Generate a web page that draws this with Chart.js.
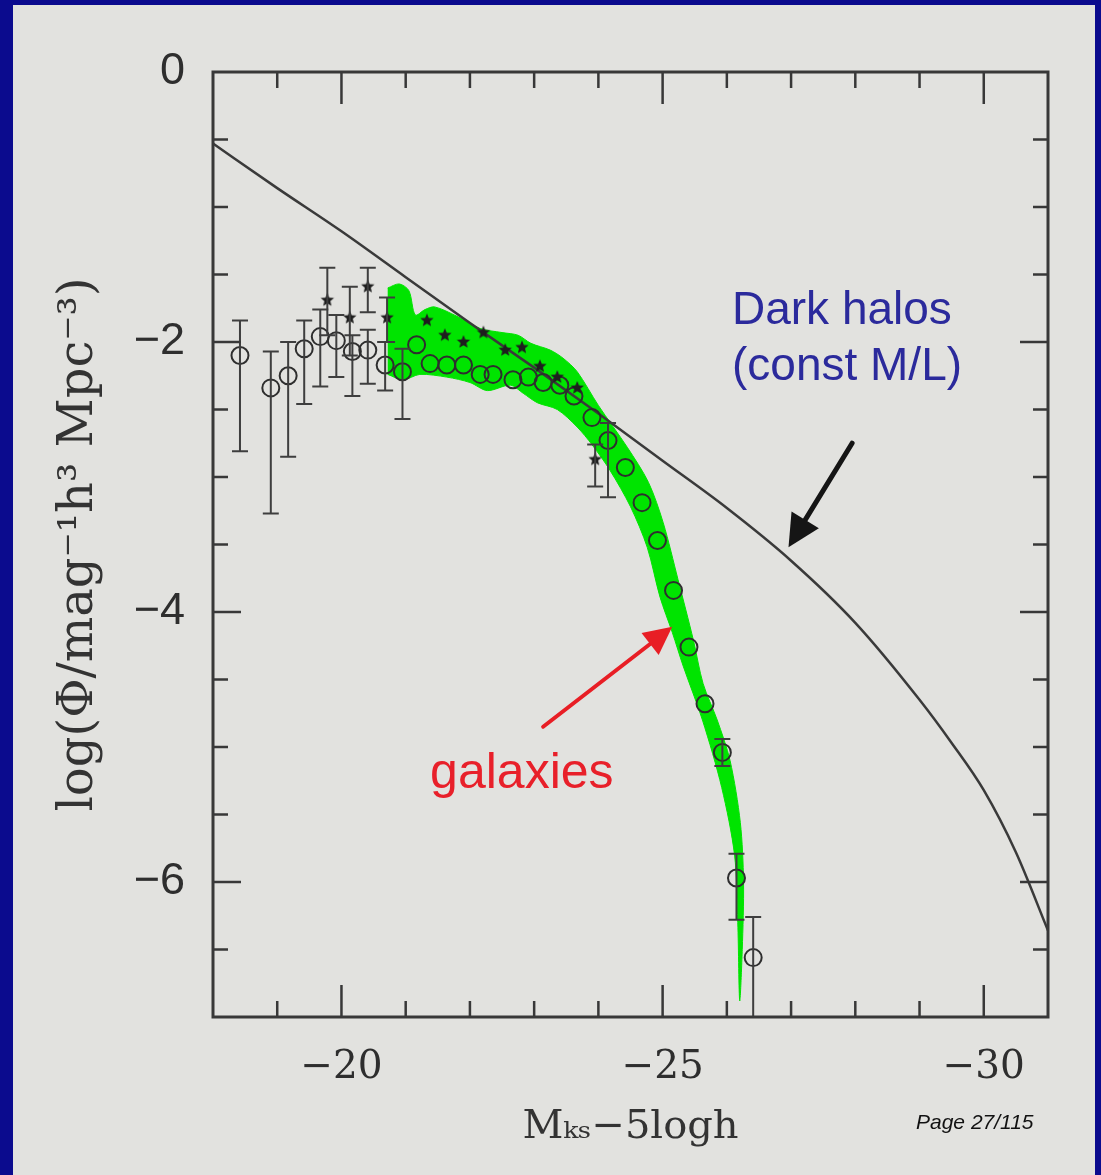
<!DOCTYPE html>
<html><head><meta charset="utf-8">
<script src="https://cdn.jsdelivr.net/npm/chart.js@4.4.1/dist/chart.umd.min.js"></script>
<style>
html,body{margin:0;padding:0;width:1101px;height:1175px;overflow:hidden;background:#0b0b8e;}
#panel{position:absolute;left:13px;top:5px;width:1082px;height:1170px;background:#e2e2df;}
#c{position:absolute;left:0;top:0;}
#page{position:absolute;left:916px;top:1110px;font:italic 21px "Liberation Sans",Arial,sans-serif;color:#111;}
</style></head><body>
<div id="panel"></div>
<canvas id="c" width="1101" height="1175"></canvas>
<div id="page">Page 27/115</div>
<script>
// ---- tick labels ----
const xTickValues = [-20, -25, -30];
const xTickLabels = ['−20', '−25', '−30'];
const yTickValues = [0, -2, -4, -6];
const yTickLabels = ['0', '−2', '−4', '−6'];

// ---- dark halo curve (const M/L) ----
const haloMag    = [-18, -19, -20, -21, -22, -23, -24, -25, -26, -27, -28, -29, -29.5, -30, -30.5, -31];
const haloLogPhi = [-0.53, -0.86, -1.18, -1.52, -1.86, -2.19, -2.53, -2.88, -3.23, -3.62, -4.08, -4.65, -4.97, -5.32, -5.78, -6.36];

// ---- galaxy LF band (green): upper edge and lower edge ----
const bandUpperMag = [-20.72, -20.90, -21.05, -21.15, -21.30, -21.45, -21.80, -22.16, -22.50, -22.75, -22.95, -23.25, -23.45, -23.67, -24.00, -24.45, -24.78, -25.01, -25.24, -25.48, -25.63, -25.85, -26.05, -26.21, -26.26, -26.24, -26.20];
const bandUpperLog = [-1.60, -1.57, -1.62, -1.80, -1.76, -1.74, -1.81, -1.90, -1.93, -1.95, -2.01, -2.06, -2.12, -2.22, -2.47, -2.78, -3.04, -3.34, -3.76, -4.21, -4.53, -4.80, -5.10, -5.56, -6.00, -6.50, -6.88];
const bandLowerMag = [-26.17, -26.12, -25.92, -25.62, -25.32, -25.15, -24.96, -24.76, -24.50, -24.18, -23.90, -23.67, -23.36, -23.05, -22.83, -22.63, -22.27, -22.00, -21.64, -21.22, -20.96, -20.72];
const bandLowerLog = [-6.30, -5.80, -5.30, -4.80, -4.40, -4.15, -3.89, -3.52, -3.22, -2.95, -2.76, -2.63, -2.50, -2.45, -2.38, -2.32, -2.36, -2.30, -2.26, -2.24, -2.28, -2.24];

// ---- open circles with error bars ----
const circMag = [-18.42, -18.90, -19.17, -19.42, -19.67, -19.92, -20.17, -20.41, -20.68, -20.95, -21.17, -21.38, -21.64, -21.90, -22.16, -22.36, -22.67, -22.91, -23.14, -23.40, -23.62, -23.90, -24.15, -24.42, -24.68, -24.92, -25.17, -25.41, -25.66, -25.93, -26.15, -26.41];
const circLog = [-2.10, -2.34, -2.25, -2.05, -1.96, -1.99, -2.07, -2.06, -2.17, -2.22, -2.02, -2.16, -2.17, -2.17, -2.24, -2.24, -2.28, -2.26, -2.30, -2.32, -2.40, -2.56, -2.73, -2.93, -3.19, -3.47, -3.84, -4.26, -4.68, -5.04, -5.97, -6.56];
const circLo  = [-2.81, -3.27, -2.85, -2.46, -2.33, -2.26, -2.40, -2.31, -2.36, -2.57, null, null, null, null, null, null, null, null, null, null, null, null, -3.15, null, null, null, null, null, null, -5.14, -6.28, -7.00];
const circHi  = [-1.84, -2.07, -2.00, -1.84, -1.76, -1.80, -1.95, -1.91, -2.00, -2.05, null, null, null, null, null, null, null, null, null, null, null, null, -2.60, null, null, null, null, null, null, -4.94, -5.79, -6.26];

// ---- filled stars with error bars ----
const starMag = [-19.78, -20.13, -20.41, -20.71, -21.33, -21.61, -21.90, -22.21, -22.55, -22.81, -23.09, -23.36, -23.67, -23.95];
const starLog = [-1.69, -1.82, -1.59, -1.82, -1.84, -1.95, -2.00, -1.93, -2.06, -2.04, -2.18, -2.26, -2.34, -2.87];
const starLo  = [-1.95, -2.10, -1.78, -2.00, null, null, null, null, null, null, null, null, null, -3.07];
const starHi  = [-1.45, -1.59, -1.45, -1.67, null, null, null, null, null, null, null, null, null, -2.76];

// ---- annotations (data coordinates) ----
const notes = [
  {text: 'Dark halos',  x: -26.08, y: -1.87, color: '#2b2a9c', size: 46},
  {text: '(const M/L)', x: -26.08, y: -2.28, color: '#2b2a9c', size: 46},
  {text: 'galaxies',    x: -21.38, y: -5.30, color: '#e8202a', size: 50}
];
const arrows = [
  {from: [-27.95, -2.75], to: [-26.96, -3.52], color: '#151515', width: 5, head: 32},
  {from: [-23.14, -4.85], to: [-25.15, -4.11], color: '#e81e25', width: 4, head: 28}
];

const pts = (xs, ys) => xs.map((v, i) => ({x: v, y: ys[i]}));
const bandPolygon = pts(bandUpperMag, bandUpperLog).concat(pts(bandLowerMag, bandLowerLog));

function makeStar(r, color) {
  const c = document.createElement('canvas');
  c.width = c.height = 2 * r + 2;
  const g = c.getContext('2d');
  g.fillStyle = color;
  g.beginPath();
  for (let i = 0; i < 10; i++) {
    const a = -Math.PI / 2 + i * Math.PI / 5;
    const rr = i % 2 ? r * 0.45 : r;
    g.lineTo(r + 1 + rr * Math.cos(a), r + 1 + rr * Math.sin(a));
  }
  g.closePath(); g.fill();
  return c;
}
const starImg = makeStar(7, '#1e1e1e');

const errPlugin = {
  id: 'errbars',
  afterDatasetsDraw(chart) {
    const {ctx, scales: {x, y}} = chart;
    ctx.save();
    ctx.strokeStyle = '#3e3e3e';
    ctx.lineWidth = 2;
    chart.data.datasets.forEach(ds => {
      if (!ds.errLo) return;
      ds.data.forEach((p, i) => {
        const lo = ds.errLo[i], hi = ds.errHi[i];
        if (lo == null || hi == null) return;
        const px = x.getPixelForValue(p.x);
        const p1 = y.getPixelForValue(lo), p2 = y.getPixelForValue(hi);
        ctx.beginPath();
        ctx.moveTo(px, p1); ctx.lineTo(px, p2);
        ctx.moveTo(px - 8, p1); ctx.lineTo(px + 8, p1);
        ctx.moveTo(px - 8, p2); ctx.lineTo(px + 8, p2);
        ctx.stroke();
      });
    });
    ctx.restore();
  }
};

const framePlugin = {
  id: 'frame',
  afterDatasetsDraw(chart) {
    const {ctx, chartArea: a, scales: {x, y}} = chart;
    ctx.save();
    ctx.strokeStyle = '#383838';
    ctx.lineWidth = 3;
    ctx.strokeRect(a.left, a.top, a.right - a.left, a.bottom - a.top);
    ctx.lineWidth = 2.5;
    ctx.beginPath();
    for (let v = -19; v >= -30; v--) {
      const px = x.getPixelForValue(v);
      const L = (v % 5 === 0) ? 32 : 16;
      ctx.moveTo(px, a.top); ctx.lineTo(px, a.top + L);
      ctx.moveTo(px, a.bottom); ctx.lineTo(px, a.bottom - L);
    }
    for (let k = 1; k < 14; k++) {
      const v = -0.5 * k;
      const py = y.getPixelForValue(v);
      const L = (k % 4 === 0) ? 28 : 15;
      ctx.moveTo(a.left, py); ctx.lineTo(a.left + L, py);
      ctx.moveTo(a.right, py); ctx.lineTo(a.right - L, py);
    }
    ctx.stroke();
    ctx.restore();
  }
};

const notePlugin = {
  id: 'notes',
  afterDraw(chart) {
    const {ctx, scales: {x, y}} = chart;
    ctx.save();
    arrows.forEach(ar => {
      const x0 = x.getPixelForValue(ar.from[0]), y0 = y.getPixelForValue(ar.from[1]);
      const x1 = x.getPixelForValue(ar.to[0]),   y1 = y.getPixelForValue(ar.to[1]);
      const ang = Math.atan2(y1 - y0, x1 - x0);
      const bx = x1 - ar.head * Math.cos(ang), by = y1 - ar.head * Math.sin(ang);
      ctx.strokeStyle = ar.color; ctx.fillStyle = ar.color;
      ctx.lineWidth = ar.width; ctx.lineCap = 'round';
      ctx.beginPath(); ctx.moveTo(x0, y0); ctx.lineTo(bx, by); ctx.stroke();
      const w = ar.head * 0.5;
      ctx.beginPath();
      ctx.moveTo(x1, y1);
      ctx.lineTo(bx + w * Math.sin(ang), by - w * Math.cos(ang));
      ctx.lineTo(bx - w * Math.sin(ang), by + w * Math.cos(ang));
      ctx.closePath(); ctx.fill();
    });
    ctx.textAlign = 'left'; ctx.textBaseline = 'alphabetic';
    notes.forEach(n => {
      ctx.font = n.size + 'px "Liberation Sans", Arial, sans-serif';
      ctx.fillStyle = n.color;
      ctx.fillText(n.text, x.getPixelForValue(n.x), y.getPixelForValue(n.y));
    });
    ctx.restore();
  }
};

new Chart(document.getElementById('c'), {
  type: 'scatter',
  data: {
    datasets: [
      {label: 'stars', data: pts(starMag, starLog), pointStyle: starImg, pointRadius: 7,
       errLo: starLo, errHi: starHi, showLine: false},
      {label: 'circles', data: pts(circMag, circLog), pointStyle: 'circle', pointRadius: 8.5,
       pointBorderWidth: 2, pointBorderColor: '#2e2e2e', pointBackgroundColor: 'rgba(0,0,0,0)',
       errLo: circLo, errHi: circHi, showLine: false},
      {label: 'Dark halos (const M/L)', type: 'line', data: pts(haloMag, haloLogPhi),
       borderColor: '#3a3a3a', borderWidth: 2.5, pointRadius: 0, fill: false,
       cubicInterpolationMode: 'monotone'},
      {label: 'galaxies', type: 'line', data: bandPolygon, fill: 'shape',
       backgroundColor: '#00e400', borderColor: '#00e400', borderWidth: 1, pointRadius: 0, tension: 0.3}
    ]
  },
  options: {
    responsive: false, animation: false, devicePixelRatio: 1,
    layout: {padding: {left: 0, top: 72, right: 53, bottom: 0}},
    plugins: {legend: {display: false}, tooltip: {enabled: false}},
    scales: {
      x: {
        type: 'linear', reverse: true, min: -31, max: -18,
        afterFit(s) { s.height = 158; },
        afterBuildTicks(s) { s.ticks = xTickValues.map(v => ({value: v})); },
        ticks: {
          callback: (v) => xTickLabels[xTickValues.indexOf(v)],
          font: {family: 'DejaVu Serif', size: 39}, color: '#2e2e2e',
          padding: 27, maxRotation: 0, autoSkip: false
        },
        grid: {display: false, drawTicks: false},
        border: {display: false},
        title: {display: true, text: 'Mₖₛ−5logh', color: '#333',
                font: {family: 'DejaVu Serif', size: 40}, padding: {top: 0, bottom: 23}}
      },
      y: {
        type: 'linear', min: -7, max: 0,
        afterFit(s) { s.width = 213; },
        afterBuildTicks(s) { s.ticks = yTickValues.map(v => ({value: v})); },
        ticks: {
          callback: (v) => yTickLabels[yTickValues.indexOf(v)],
          font: {family: 'Liberation Sans', size: 45}, color: '#2e2e2e', padding: 28
        },
        grid: {display: false, drawTicks: false},
        border: {display: false},
        title: {display: true, text: 'log(Φ/mag⁻¹h³ Mpc⁻³)', color: '#333',
                font: {family: 'DejaVu Serif', size: 48}, padding: {top: 51, bottom: 0}}
      }
    }
  },
  plugins: [errPlugin, framePlugin, notePlugin]
});
</script>
</body></html>
